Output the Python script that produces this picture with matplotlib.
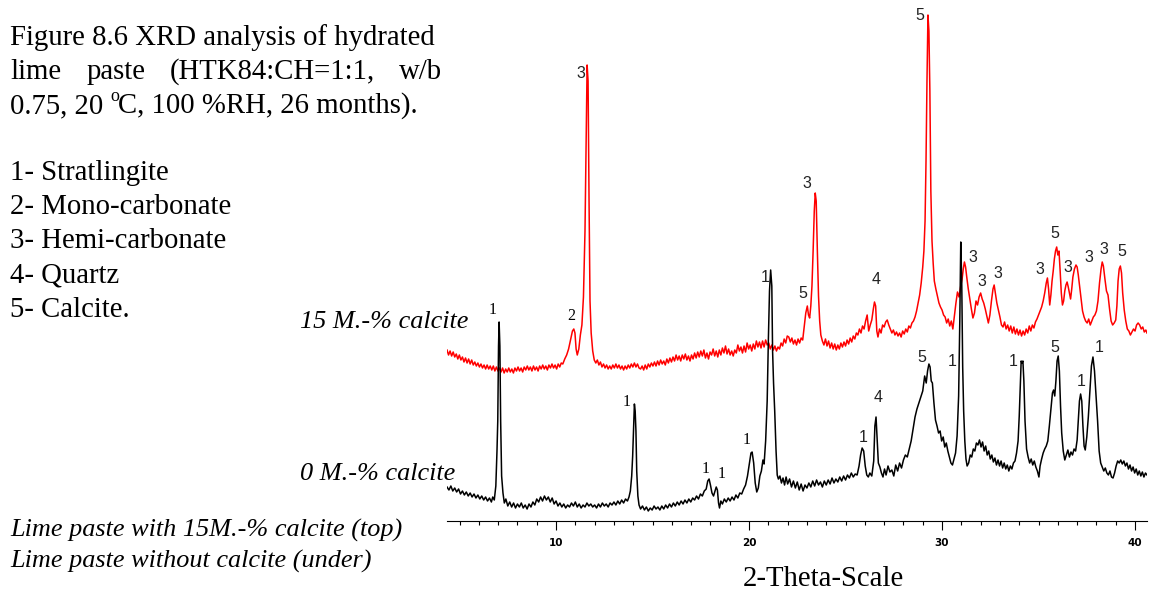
import matplotlib
matplotlib.use("Agg")
import matplotlib.pyplot as plt
import numpy as np

# XRD traces, (2-theta, intensity a.u.)
black_trace = [
    (4.35, 34), (4.45, 31), (4.55, 35), (4.65, 30), (4.75, 33), (4.85, 29), (4.95, 32), (5.05, 27),
    (5.15, 30), (5.25, 26), (5.35, 29), (5.45, 25), (5.55, 28), (5.65, 24), (5.75, 27), (5.85, 23),
    (5.95, 26), (6.05, 22), (6.15, 25), (6.25, 21), (6.35, 24), (6.45, 20), (6.55, 23), (6.65, 19),
    (6.72, 24), (6.80, 21), (6.88, 35), (6.94, 70), (6.98, 100), (7.02, 175), (7.05, 199), (7.09, 175),
    (7.13, 100), (7.18, 45), (7.25, 28), (7.32, 18), (7.40, 22), (7.50, 15), (7.60, 19), (7.70, 14),
    (7.80, 18), (7.90, 13), (8.00, 17), (8.10, 14), (8.20, 18), (8.30, 13), (8.40, 16), (8.50, 12),
    (8.60, 17), (8.70, 14), (8.80, 19), (8.90, 16), (9.00, 22), (9.10, 19), (9.20, 24), (9.30, 20),
    (9.40, 25), (9.50, 21), (9.60, 24), (9.70, 19), (9.80, 23), (9.90, 17), (10.00, 20), (10.10, 15),
    (10.20, 18), (10.30, 14), (10.40, 17), (10.50, 13), (10.60, 16), (10.70, 14), (10.80, 18), (10.90, 15),
    (11.00, 19), (11.10, 14), (11.20, 17), (11.30, 13), (11.40, 16), (11.50, 14), (11.60, 18), (11.70, 15),
    (11.80, 17), (11.90, 14), (12.00, 16), (12.10, 13), (12.20, 17), (12.30, 14), (12.40, 18), (12.50, 15),
    (12.60, 17), (12.70, 14), (12.80, 18), (12.90, 16), (13.00, 19), (13.10, 16), (13.20, 20), (13.30, 17),
    (13.40, 21), (13.50, 18), (13.60, 22), (13.70, 20), (13.78, 24), (13.85, 30), (13.92, 45), (13.97, 65),
    (14.02, 95), (14.06, 117), (14.10, 110), (14.14, 90), (14.18, 50), (14.24, 25), (14.30, 16), (14.38, 12),
    (14.48, 15), (14.58, 11), (14.68, 14), (14.78, 10), (14.88, 13), (14.98, 11), (15.08, 15), (15.18, 12),
    (15.28, 14), (15.38, 11), (15.48, 15), (15.58, 12), (15.68, 16), (15.78, 13), (15.88, 17), (15.98, 14),
    (16.08, 18), (16.18, 15), (16.28, 19), (16.38, 16), (16.48, 20), (16.58, 17), (16.68, 21), (16.78, 18),
    (16.88, 22), (16.98, 19), (17.08, 23), (17.18, 21), (17.28, 25), (17.38, 22), (17.48, 27), (17.58, 25),
    (17.68, 30), (17.78, 32), (17.86, 40), (17.93, 42), (18.00, 36), (18.08, 28), (18.16, 25), (18.24, 30),
    (18.30, 34), (18.36, 31), (18.42, 18), (18.47, 13), (18.54, 20), (18.62, 17), (18.72, 22), (18.82, 19),
    (18.92, 23), (19.02, 20), (19.12, 24), (19.22, 21), (19.32, 26), (19.42, 23), (19.52, 28), (19.62, 27),
    (19.72, 32), (19.82, 36), (19.92, 45), (20.02, 58), (20.10, 68), (20.16, 69), (20.24, 58), (20.32, 38),
    (20.40, 29), (20.48, 33), (20.56, 45), (20.64, 50), (20.72, 61), (20.78, 57), (20.86, 80), (20.94, 120),
    (21.00, 180), (21.06, 230), (21.12, 251), (21.18, 235), (21.22, 170), (21.27, 138), (21.33, 110), (21.40, 70),
    (21.46, 46), (21.52, 42), (21.60, 45), (21.68, 38), (21.76, 43), (21.84, 36), (21.92, 44), (22.00, 37),
    (22.10, 42), (22.20, 34), (22.30, 40), (22.40, 33), (22.50, 39), (22.60, 31), (22.70, 37), (22.80, 30),
    (22.90, 36), (23.00, 33), (23.10, 38), (23.20, 34), (23.30, 40), (23.40, 35), (23.50, 41), (23.60, 36),
    (23.70, 39), (23.80, 34), (23.90, 40), (24.00, 36), (24.10, 41), (24.20, 37), (24.30, 43), (24.40, 38),
    (24.50, 42), (24.60, 39), (24.70, 44), (24.80, 40), (24.90, 45), (25.00, 41), (25.10, 46), (25.20, 43),
    (25.30, 48), (25.40, 44), (25.50, 47), (25.60, 46), (25.70, 55), (25.78, 66), (25.86, 73), (25.94, 70),
    (26.02, 55), (26.10, 46), (26.18, 44), (26.26, 48), (26.36, 45), (26.46, 60), (26.52, 95), (26.58, 104),
    (26.64, 80), (26.70, 58), (26.78, 54), (26.86, 48), (26.94, 44), (27.02, 52), (27.10, 46), (27.20, 55),
    (27.30, 49), (27.40, 51), (27.50, 45), (27.60, 56), (27.70, 50), (27.80, 58), (27.90, 53), (28.00, 61),
    (28.10, 66), (28.20, 64), (28.30, 72), (28.40, 80), (28.50, 92), (28.60, 104), (28.70, 112), (28.80, 118),
    (28.90, 124), (29.00, 130), (29.10, 145), (29.18, 138), (29.25, 150), (29.32, 157), (29.38, 154), (29.44, 140),
    (29.50, 138), (29.58, 118), (29.66, 101), (29.74, 95), (29.82, 88), (29.90, 90), (29.98, 80), (30.06, 84),
    (30.14, 74), (30.22, 78), (30.30, 70), (30.38, 64), (30.46, 58), (30.54, 56), (30.62, 62), (30.70, 68),
    (30.78, 85), (30.86, 125), (30.92, 200), (30.97, 279), (31.02, 240), (31.07, 154), (31.12, 110), (31.18, 80),
    (31.24, 62), (31.30, 55), (31.38, 58), (31.46, 66), (31.54, 64), (31.62, 72), (31.70, 70), (31.78, 78),
    (31.86, 76), (31.94, 81), (32.02, 74), (32.10, 79), (32.18, 70), (32.26, 75), (32.34, 66), (32.42, 70),
    (32.50, 62), (32.58, 66), (32.66, 59), (32.74, 63), (32.82, 56), (32.90, 61), (32.98, 55), (33.06, 60),
    (33.14, 53), (33.22, 58), (33.30, 52), (33.38, 56), (33.46, 50), (33.54, 55), (33.62, 52), (33.70, 58),
    (33.78, 60), (33.86, 68), (33.94, 80), (34.00, 105), (34.06, 140), (34.10, 160), (34.14, 158), (34.19, 160),
    (34.24, 140), (34.30, 100), (34.38, 72), (34.46, 64), (34.54, 58), (34.62, 62), (34.70, 56), (34.78, 60),
    (34.86, 54), (34.94, 50), (35.02, 44), (35.08, 55), (35.16, 62), (35.24, 68), (35.32, 72), (35.40, 75),
    (35.48, 80), (35.56, 95), (35.64, 112), (35.72, 128), (35.78, 131), (35.84, 125), (35.90, 140), (35.96, 160),
    (36.02, 165), (36.08, 150), (36.14, 115), (36.20, 88), (36.28, 70), (36.36, 61), (36.44, 66), (36.52, 71),
    (36.60, 64), (36.68, 69), (36.76, 66), (36.84, 72), (36.92, 70), (37.00, 81), (37.06, 100), (37.12, 120),
    (37.18, 127), (37.24, 120), (37.30, 95), (37.36, 75), (37.42, 71), (37.50, 84), (37.58, 104), (37.66, 130),
    (37.74, 155), (37.82, 164), (37.90, 150), (37.98, 125), (38.06, 100), (38.14, 70), (38.22, 58), (38.30, 54),
    (38.38, 50), (38.46, 53), (38.54, 48), (38.62, 46), (38.70, 50), (38.78, 44), (38.86, 43), (38.94, 48),
    (39.02, 55), (39.10, 60), (39.18, 58), (39.26, 61), (39.34, 57), (39.42, 60), (39.50, 55), (39.58, 58),
    (39.66, 52), (39.74, 56), (39.82, 50), (39.90, 54), (39.98, 48), (40.06, 52), (40.14, 46), (40.22, 50),
    (40.30, 45), (40.38, 49), (40.46, 44), (40.54, 48), (40.62, 46),
]

red_trace = [
    (4.35, 171), (4.43, 166), (4.51, 170), (4.59, 165), (4.67, 169), (4.75, 164), (4.83, 167), (4.91, 162),
    (4.99, 166), (5.07, 161), (5.15, 164), (5.23, 159), (5.31, 163), (5.39, 158), (5.47, 162), (5.55, 157),
    (5.63, 161), (5.71, 156), (5.79, 159), (5.87, 155), (5.95, 158), (6.03, 154), (6.11, 157), (6.19, 153),
    (6.27, 156), (6.35, 152), (6.43, 156), (6.51, 152), (6.59, 155), (6.67, 151), (6.75, 155), (6.83, 150),
    (6.91, 154), (6.99, 150), (7.07, 153), (7.15, 149), (7.23, 153), (7.31, 148), (7.39, 152), (7.47, 149),
    (7.55, 153), (7.63, 149), (7.71, 152), (7.79, 148), (7.87, 153), (7.95, 150), (8.03, 154), (8.11, 150),
    (8.19, 153), (8.27, 149), (8.35, 154), (8.43, 151), (8.51, 155), (8.59, 151), (8.67, 154), (8.75, 150),
    (8.83, 155), (8.91, 151), (8.99, 154), (9.07, 150), (9.15, 155), (9.23, 152), (9.31, 156), (9.39, 152),
    (9.47, 155), (9.55, 151), (9.63, 156), (9.71, 153), (9.79, 157), (9.87, 153), (9.95, 156), (10.03, 152),
    (10.11, 157), (10.19, 154), (10.27, 158), (10.35, 157), (10.45, 162), (10.55, 166), (10.65, 172), (10.75, 181),
    (10.85, 190), (10.92, 192), (10.98, 188), (11.04, 172), (11.10, 166), (11.18, 172), (11.26, 186), (11.34, 196),
    (11.42, 224), (11.50, 290), (11.56, 380), (11.61, 456), (11.66, 440), (11.71, 320), (11.76, 220), (11.82, 188),
    (11.90, 170), (11.98, 161), (12.06, 158), (12.14, 161), (12.22, 156), (12.30, 159), (12.38, 154), (12.46, 157),
    (12.54, 153), (12.62, 156), (12.70, 152), (12.78, 155), (12.86, 152), (12.94, 156), (13.02, 153), (13.10, 157),
    (13.18, 153), (13.26, 156), (13.34, 152), (13.42, 155), (13.50, 151), (13.58, 155), (13.66, 152), (13.74, 156),
    (13.82, 153), (13.90, 157), (13.98, 154), (14.06, 158), (14.14, 154), (14.22, 157), (14.30, 153), (14.38, 152),
    (14.46, 155), (14.54, 151), (14.62, 156), (14.70, 152), (14.78, 157), (14.86, 154), (14.94, 158), (15.02, 155),
    (15.10, 159), (15.18, 155), (15.26, 160), (15.34, 156), (15.42, 161), (15.50, 157), (15.58, 160), (15.66, 156),
    (15.74, 162), (15.82, 158), (15.90, 163), (15.98, 159), (16.06, 164), (16.14, 160), (16.22, 166), (16.30, 161),
    (16.38, 165), (16.46, 160), (16.54, 166), (16.62, 162), (16.70, 167), (16.78, 161), (16.86, 165), (16.94, 160),
    (17.02, 166), (17.10, 162), (17.18, 168), (17.26, 163), (17.34, 169), (17.42, 164), (17.50, 170), (17.58, 165),
    (17.66, 171), (17.74, 163), (17.82, 168), (17.90, 162), (17.98, 169), (18.06, 166), (18.14, 172), (18.22, 165),
    (18.30, 170), (18.38, 164), (18.46, 171), (18.54, 166), (18.62, 173), (18.70, 168), (18.78, 175), (18.86, 167),
    (18.94, 172), (19.02, 166), (19.10, 170), (19.18, 165), (19.26, 171), (19.34, 168), (19.42, 176), (19.50, 170),
    (19.58, 174), (19.66, 168), (19.74, 175), (19.82, 169), (19.90, 178), (19.98, 172), (20.06, 176), (20.14, 170),
    (20.22, 177), (20.30, 172), (20.38, 180), (20.46, 174), (20.54, 179), (20.62, 173), (20.70, 180), (20.78, 174),
    (20.86, 181), (20.94, 176), (21.02, 178), (21.10, 172), (21.18, 176), (21.26, 171), (21.34, 175), (21.42, 170),
    (21.50, 174), (21.58, 172), (21.66, 178), (21.74, 175), (21.82, 182), (21.90, 178), (21.98, 185), (22.06, 184),
    (22.14, 179), (22.22, 183), (22.30, 177), (22.38, 181), (22.46, 176), (22.54, 182), (22.62, 178), (22.70, 183),
    (22.78, 181), (22.86, 195), (22.94, 208), (23.02, 215), (23.08, 206), (23.14, 203), (23.20, 215), (23.26, 235),
    (23.32, 270), (23.38, 310), (23.43, 328), (23.48, 320), (23.54, 270), (23.60, 225), (23.66, 200), (23.72, 186),
    (23.80, 180), (23.88, 176), (23.96, 182), (24.04, 175), (24.12, 180), (24.20, 173), (24.28, 178), (24.36, 172),
    (24.44, 177), (24.52, 171), (24.60, 176), (24.68, 172), (24.76, 178), (24.84, 174), (24.92, 179), (25.00, 175),
    (25.08, 181), (25.16, 177), (25.24, 183), (25.32, 179), (25.40, 185), (25.48, 182), (25.56, 188), (25.64, 186),
    (25.72, 192), (25.80, 188), (25.88, 195), (25.96, 192), (26.04, 200), (26.12, 206), (26.20, 190), (26.28, 196),
    (26.36, 201), (26.44, 212), (26.50, 219), (26.56, 215), (26.62, 190), (26.68, 184), (26.76, 192), (26.84, 188),
    (26.92, 196), (27.00, 194), (27.08, 199), (27.16, 201), (27.24, 196), (27.32, 192), (27.40, 188), (27.48, 191),
    (27.56, 186), (27.64, 189), (27.72, 185), (27.80, 188), (27.88, 184), (27.96, 190), (28.04, 187), (28.12, 192),
    (28.20, 189), (28.28, 195), (28.36, 193), (28.44, 198), (28.52, 200), (28.60, 204), (28.68, 210), (28.76, 218),
    (28.84, 226), (28.92, 238), (29.00, 254), (29.06, 270), (29.12, 300), (29.17, 360), (29.22, 440), (29.27, 506),
    (29.32, 490), (29.37, 430), (29.42, 330), (29.48, 280), (29.54, 258), (29.60, 240), (29.68, 232), (29.76, 225),
    (29.84, 218), (29.92, 214), (30.00, 211), (30.08, 206), (30.16, 204), (30.24, 198), (30.32, 202), (30.40, 195),
    (30.48, 200), (30.56, 192), (30.64, 205), (30.72, 218), (30.80, 229), (30.88, 224), (30.96, 234), (31.04, 242),
    (31.10, 252), (31.16, 259), (31.22, 254), (31.28, 244), (31.36, 232), (31.44, 222), (31.52, 212), (31.60, 203),
    (31.68, 208), (31.76, 220), (31.84, 216), (31.92, 224), (32.00, 228), (32.08, 222), (32.16, 218), (32.24, 212),
    (32.32, 205), (32.40, 198), (32.48, 206), (32.56, 220), (32.64, 232), (32.70, 236), (32.76, 228), (32.84, 218),
    (32.92, 211), (33.00, 204), (33.08, 196), (33.16, 194), (33.24, 199), (33.32, 192), (33.40, 196), (33.48, 190),
    (33.56, 195), (33.64, 188), (33.72, 194), (33.80, 187), (33.88, 192), (33.96, 186), (34.04, 191), (34.12, 185),
    (34.20, 190), (34.28, 186), (34.36, 192), (34.44, 188), (34.52, 195), (34.60, 190), (34.68, 196), (34.76, 193),
    (34.84, 199), (34.92, 202), (35.00, 206), (35.08, 210), (35.16, 214), (35.24, 220), (35.32, 228), (35.40, 238),
    (35.46, 243), (35.52, 232), (35.58, 216), (35.64, 226), (35.70, 240), (35.76, 250), (35.82, 262), (35.88, 270),
    (35.94, 274), (36.00, 266), (36.06, 270), (36.12, 250), (36.18, 228), (36.24, 216), (36.30, 220), (36.36, 230),
    (36.42, 236), (36.48, 239), (36.54, 234), (36.60, 228), (36.66, 222), (36.72, 232), (36.78, 244), (36.86, 252),
    (36.94, 256), (37.00, 254), (37.06, 246), (37.12, 236), (37.20, 222), (37.28, 210), (37.36, 204), (37.44, 200),
    (37.52, 198), (37.60, 202), (37.68, 196), (37.76, 200), (37.84, 204), (37.92, 206), (38.00, 210), (38.08, 220),
    (38.16, 238), (38.24, 252), (38.30, 259), (38.36, 255), (38.44, 242), (38.52, 230), (38.60, 226), (38.68, 212),
    (38.76, 200), (38.84, 196), (38.92, 198), (39.00, 201), (39.06, 215), (39.12, 240), (39.18, 252), (39.24, 255),
    (39.30, 248), (39.36, 228), (39.44, 211), (39.52, 200), (39.60, 192), (39.68, 190), (39.76, 186), (39.84, 189),
    (39.92, 192), (40.00, 190), (40.08, 196), (40.16, 198), (40.24, 196), (40.32, 192), (40.40, 194), (40.48, 189),
    (40.56, 191), (40.62, 188),
]

# peak labels: (2-theta, intensity, phase number, serif?)
black_labels = [
    (6.74, 211, "1", True), (13.68, 119, "1", True), (17.77, 52, "1", True), (18.60, 47, "1", True),
    (19.90, 81, "1", True), (20.83, 244, "1", False), (25.91, 84, "1", False), (26.68, 124, "4", False),
    (28.96, 163, "5", False), (30.52, 159, "1", False), (33.68, 159, "1", False), (35.85, 173, "5", False),
    (37.20, 139, "1", False), (38.13, 174, "1", False),
]
red_labels = [
    (10.78, 205, "2", True), (11.30, 447, "3", False), (23.00, 337, "3", False), (22.80, 228, "5", False),
    (26.58, 241, "4", False), (28.86, 505, "5", False), (31.61, 264, "3", False), (32.07, 240, "3", False),
    (32.90, 247, "3", False), (35.08, 251, "3", False), (35.85, 287, "5", False), (36.53, 253, "3", False),
    (37.62, 264, "3", False), (38.39, 271, "3", False), (39.33, 269, "5", False),
]

phases = ["1- Stratlingite", "2- Mono-carbonate", "3- Hemi-carbonate", "4- Quartz", "5- Calcite."]

W, H = 1150, 593
fig = plt.figure(figsize=(W / 100, H / 100), dpi=100)
ax = fig.add_axes([447 / W, 72 / H, 700 / W, 521 / H])

rx, ry = np.array(red_trace).T
bx, by = np.array(black_trace).T
ax.plot(rx, ry, color="#ff0000", lw=1.1)
ax.plot(bx, by, color="black", lw=1.1)

ax.set_xlim(4.35, 40.62)
ax.set_ylim(0, 521)
for s in ["left", "right", "top"]:
    ax.spines[s].set_visible(False)
ax.spines["bottom"].set_linewidth(0.8)
ax.set_yticks([])
ax.set_xticks([10, 20, 30, 40])
ax.set_xticks(np.arange(5, 41, 1), minor=True)
ax.tick_params(axis="x", which="major", direction="out", length=6.5, width=0.8, pad=6,
               labelsize=7.5)
ax.tick_params(axis="x", which="minor", direction="out", length=3, width=0.8)
for lab in ax.get_xticklabels():
    lab.set_fontweight("bold")
    lab.set_family("DejaVu Sans")

for labels in (black_labels, red_labels):
    for t, h, s, is_serif in labels:
        if is_serif:
            ax.text(t, h, s, ha="center", va="center", fontsize=11.5, family="Liberation Serif")
        else:
            ax.text(t, h, s, ha="center", va="center", fontsize=11.5, family="Liberation Sans",
                    color="#222222")


def ftext(x, y, s, **kw):
    fig.text(x / W, 1 - y / H, s, va="baseline", **kw)


serif = dict(family="Liberation Serif", fontsize=20.7)
ital = dict(family="Liberation Serif", fontsize=18.9, style="italic")

ftext(10, 45, "Figure 8.6 XRD analysis of hydrated", **serif)
ftext(10, 79, "lime", **serif)
ftext(87, 79, "paste", **serif)
ftext(170, 79, "(HTK84:CH=1:1,", **serif)
ftext(442, 79, "w/b", ha="right", **serif)
ftext(10, 113, "0.75, 20", **serif)
ftext(110, 101, "o", family="Liberation Serif", fontsize=13)
ftext(118, 113, "C, 100 %RH, 26 months).", **serif)
for i, p in enumerate(phases):
    ftext(10, 180 + i * 34.2, p, **serif)

ftext(300, 328, "15 M.-% calcite", **ital)
ftext(300, 480, "0 M.-% calcite", **ital)
ftext(10, 537, "Lime paste with 15M.-% calcite (top)", **ital)
ftext(10, 568, "Lime paste without calcite (under)", **ital)
ftext(823, 586, "2-Theta-Scale", ha="center", **serif)

fig.savefig("out.png", dpi=100)
